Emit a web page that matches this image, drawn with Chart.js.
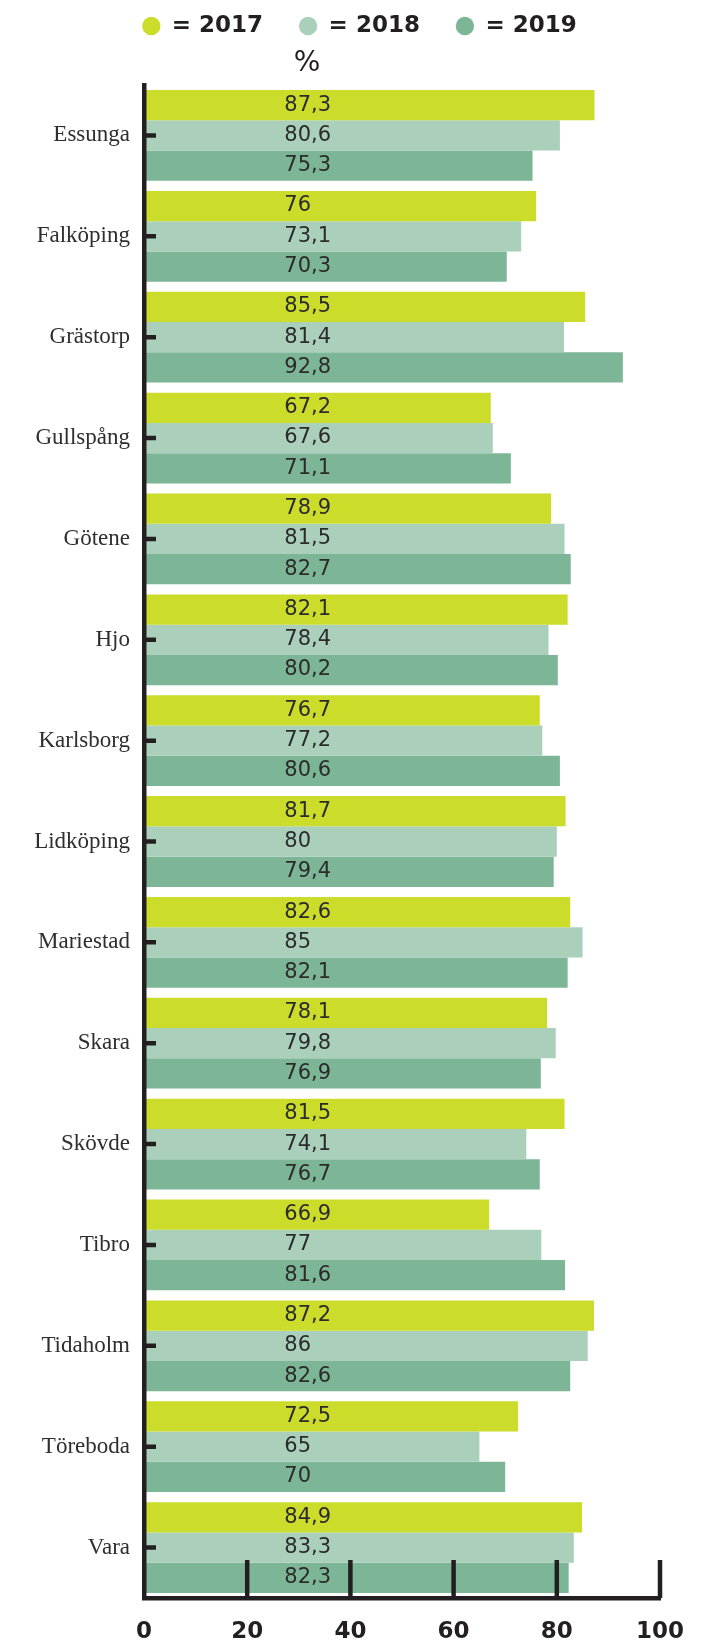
<!DOCTYPE html>
<html>
<head>
<meta charset="utf-8">
<style>
  html, body { margin: 0; padding: 0; background: #fff; }
  #wrap { width: 712px; height: 1643px; }
</style>
</head>
<body>
<div id="wrap"><canvas id="myChart"></canvas></div>
<script src="https://cdn.jsdelivr.net/npm/chart.js@4/dist/chart.umd.min.js"></script>
<script>
const municipalities = ["Essunga", "Falköping", "Grästorp", "Gullspång", "Götene", "Hjo", "Karlsborg", "Lidköping", "Mariestad", "Skara", "Skövde", "Tibro", "Tidaholm", "Töreboda", "Vara"];
const years = ["2017", "2018", "2019"];
const values2017 = [87.3, 76, 85.5, 67.2, 78.9, 82.1, 76.7, 81.7, 82.6, 78.1, 81.5, 66.9, 87.2, 72.5, 84.9];
const values2018 = [80.6, 73.1, 81.4, 67.6, 81.5, 78.4, 77.2, 80, 85, 79.8, 74.1, 77, 86, 65, 83.3];
const values2019 = [75.3, 70.3, 92.8, 71.1, 82.7, 80.2, 80.6, 79.4, 82.1, 76.9, 76.7, 81.6, 82.6, 70, 82.3];
const xTicks = [0, 20, 40, 60, 80, 100];
const colors = ["#cbdc2a", "#aad0bc", "#7db697"];

const ink = "#231f20";
// value labels all start at the same spot on the x scale
const labelStart = 27.2;

Chart.defaults.font.family = '"DejaVu Sans", Verdana, sans-serif';
Chart.defaults.color = ink;

// extra room between the legend and the plot, used by the "%" caption
const legendGap = {
  id: "legendGap",
  beforeInit(chart) {
    const fit = chart.legend.fit;
    chart.legend.fit = function () {
      fit.call(this);
      this.height += 37.5;
    };
  },
};

const unitCaption = {
  id: "unitCaption",
  afterDraw(chart) {
    const { ctx } = chart;
    ctx.save();
    ctx.font = '28px "DejaVu Sans"';
    ctx.fillStyle = ink;
    ctx.textAlign = "center";
    ctx.textBaseline = "middle";
    ctx.fillText("%", 307, 64);
    ctx.restore();
  },
};

// short tick marks pointing into the plot, drawn over the bars
const innerTicks = {
  id: "innerTicks",
  afterDatasetsDraw(chart) {
    const { ctx, chartArea, scales: { x, y } } = chart;
    ctx.save();
    ctx.strokeStyle = ink;
    ctx.lineWidth = 4.5;
    ctx.beginPath();
    y.ticks.forEach((t, i) => {
      const py = y.getPixelForTick(i);
      ctx.moveTo(chartArea.left, py);
      ctx.lineTo(chartArea.left + 12, py);
    });
    x.ticks.forEach((t) => {
      if (t.value === 0) return;
      const px = x.getPixelForValue(t.value);
      ctx.moveTo(px, chartArea.bottom);
      ctx.lineTo(px, chartArea.bottom - 38);
    });
    ctx.stroke();
    ctx.restore();
  },
};

const valueLabels = {
  id: "valueLabels",
  afterDatasetsDraw(chart) {
    const { ctx, scales: { x } } = chart;
    const startX = x.getPixelForValue(labelStart);
    ctx.save();
    ctx.font = '21px "DejaVu Sans"';
    ctx.fillStyle = "#2b2b2b";
    ctx.textAlign = "left";
    ctx.textBaseline = "middle";
    chart.data.datasets.forEach((ds, i) => {
      chart.getDatasetMeta(i).data.forEach((bar, j) => {
        ctx.fillText(String(ds.data[j]).replace(".", ","), startX, bar.y);
      });
    });
    ctx.restore();
  },
};

const ctx = document.getElementById("myChart");

new Chart(ctx, {
  type: "bar",
  data: {
    labels: municipalities,
    datasets: [values2017, values2018, values2019].map((data, i) => ({
      label: years[i],
      data: data,
      backgroundColor: colors[i],
      borderWidth: 0,
      barPercentage: 1,
      categoryPercentage: 0.9,
    })),
  },
  options: {
    indexAxis: "y",
    responsive: true,
    maintainAspectRatio: false,
    animation: false,
    layout: {
      padding: { top: -21.5, left: 7, right: 0, bottom: 0 },
    },
    scales: {
      x: {
        min: 0,
        max: 100,
        afterBuildTicks(scale) {
          scale.ticks = xTicks.map((v) => ({ value: v }));
        },
        grid: { display: false, drawTicks: false },
        border: { display: true, color: ink, width: 4.5, z: 1 },
        ticks: {
          color: ink,
          padding: 20,
          font: { size: 23, weight: "bold" },
        },
        afterFit(scale) {
          scale.height = 45;
        },
      },
      y: {
        grid: { display: false, drawTicks: false },
        border: { display: true, color: ink, width: 4.5, z: 1 },
        ticks: {
          color: "#2e2e2e",
          padding: 14,
          font: { family: '"Liberation Serif", serif', size: 23 },
        },
        afterFit(scale) {
          scale.width = 137;
        },
      },
      // empty margin on the right so the plot ends at 100
      rightMargin: {
        type: "linear",
        position: "right",
        grid: { display: false, drawTicks: false },
        border: { display: false },
        ticks: { display: false },
        afterFit(scale) {
          scale.width = 52;
        },
      },
    },
    plugins: {
      tooltip: { enabled: false },
      legend: {
        position: "top",
        labels: {
          usePointStyle: true,
          pointStyle: "circle",
          boxWidth: 18,
          boxHeight: 13,
          padding: 36,
          color: ink,
          font: { size: 23, weight: "bold" },
          generateLabels(chart) {
            return Chart.defaults.plugins.legend.labels
              .generateLabels(chart)
              .map((item) => ({ ...item, text: "= " + item.text, lineWidth: 0 }));
          },
        },
      },
    },
  },
  plugins: [legendGap, unitCaption, innerTicks, valueLabels],
});
</script>
</body>
</html>
